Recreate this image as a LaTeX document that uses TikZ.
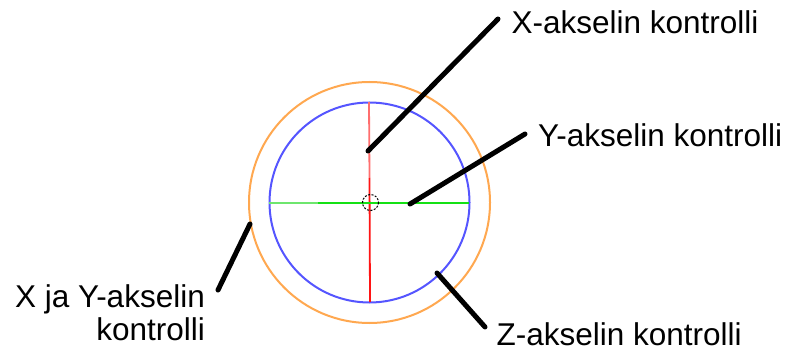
\documentclass[tikz,border=0pt]{standalone}
\usepackage{fontspec}
\setmainfont{Liberation Sans}
\definecolor{ringorange}{RGB}{255,168,80}
\definecolor{ringblue}{RGB}{85,85,255}
\definecolor{axred}{RGB}{255,20,20}
\definecolor{axredlight}{RGB}{255,110,110}
\definecolor{axgreen}{RGB}{20,225,20}
\definecolor{axgreenlight}{RGB}{110,230,110}
\begin{document}
\begin{tikzpicture}[x=1pt,y=-1pt,
  leader/.style={line width=5pt,line cap=round,black},
  lbl/.style={inner sep=0pt,font=\fontsize{31.5}{33}\selectfont},
  ring/.style={line width=2pt}]
\useasboundingbox[fill=white] (0,0) rectangle (792,358);
% rings
\coordinate (c) at (369.5,202.5);
\draw[ring,ringorange] (c) circle[radius=120.5];
\draw[ring,ringblue] (c) circle[radius=100];
% axes
\coordinate (rtop) at (369,102);
\coordinate (rmid) at (369.5,178);
\coordinate (rbot) at (370,302);
\draw[line width=1.8pt,axredlight] (rtop) -- (rmid);
\draw[line width=1.8pt,axred] (rmid) -- (rbot);
\coordinate (gl) at (269,203);
\coordinate (gm) at (318,203);
\coordinate (gr) at (469,203);
\draw[line width=1.8pt,axgreenlight] (gl) -- (gm);
\draw[line width=1.8pt,axgreen] (gm) -- (gr);
\draw[line width=1pt,dashed,dash pattern=on 2pt off 1.5pt] (370.5,202.5) circle[radius=8];
% leader line end points
\coordinate (xa) at (368,151);
\coordinate (xb) at (498,19);
\coordinate (ya) at (410,204);
\coordinate (yb) at (525,134);
\coordinate (za) at (437,273);
\coordinate (zb) at (485,327);
\coordinate (wa) at (250,224);
\coordinate (wb) at (218,290);
\draw[leader] (xa) -- (xb);
\draw[leader] (ya) -- (yb);
\draw[leader] (za) -- (zb);
\draw[leader] (wa) -- (wb);
% labels
\node[lbl,anchor=base west] (lx) at (511.5,33.5) {X-akselin kontrolli};
\node[lbl,anchor=base west] (ly) at (538,147) {Y-akselin kontrolli};
\node[lbl,anchor=base west] (lz) at (496.5,345) {Z-akselin kontrolli};
\node[lbl,anchor=base east] (lw1) at (205,307) {X ja Y-akselin};
\node[lbl,anchor=base east] (lw2) at (205,340) {kontrolli};
\end{tikzpicture}
\end{document}
